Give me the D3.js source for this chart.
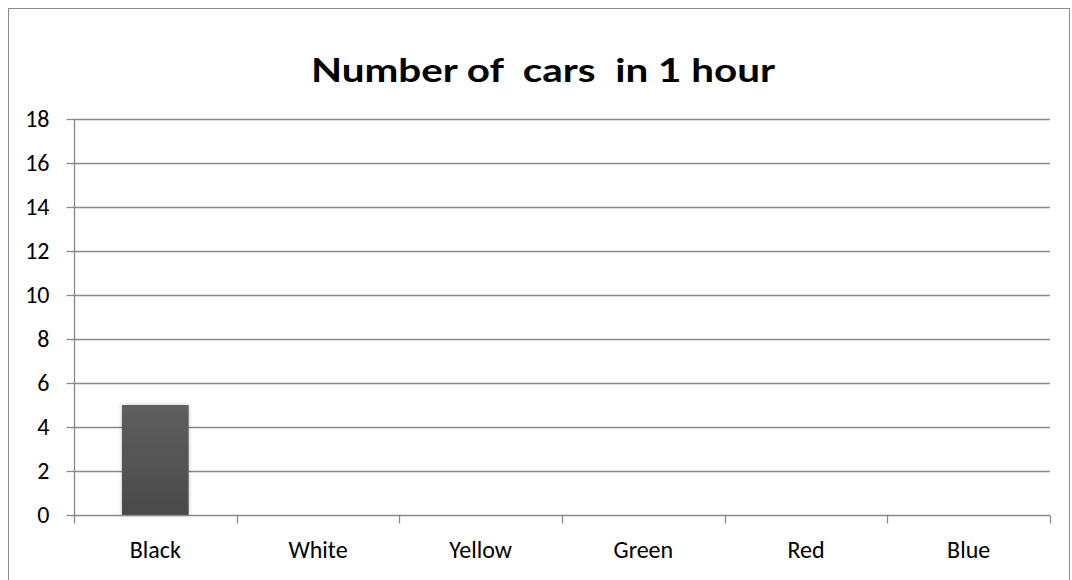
<!DOCTYPE html>
<html>
<head>
<meta charset="utf-8">
<script src="https://cdn.jsdelivr.net/npm/d3@7"></script>
<style>
  body { margin: 0; background: #fff; }
  svg { display: block; }
</style>
</head>
<body>
<script>
// chart values
var categories = ["Black", "White", "Yellow", "Green", "Red", "Blue"];
var counts = [5, 0, 0, 0, 0, 0];
var yTicks = [0, 2, 4, 6, 8, 10, 12, 14, 16, 18];
var title = "Number of  cars  in 1 hour";

var W = 1072, H = 580;
var margin = {left: 74, right: 22, top: 119, bottom: 65};

var svg = d3.select("body").append("svg")
    .attr("width", W)
    .attr("height", H);

// gradient for the bar
var defs = svg.append("defs");
var grad = defs.append("linearGradient")
    .attr("id", "barGrad")
    .attr("x1", 0).attr("y1", 0).attr("x2", 0).attr("y2", 1);
grad.append("stop").attr("offset", "0%").attr("stop-color", "#5f5f5f");
grad.append("stop").attr("offset", "100%").attr("stop-color", "#4a4a4a");

var shadow = defs.append("filter").attr("id", "shadow")
    .attr("x", "-20%").attr("y", "-20%").attr("width", "140%").attr("height", "140%");
shadow.append("feDropShadow")
    .attr("dx", 0).attr("dy", 0).attr("stdDeviation", 2)
    .attr("flood-color", "#000").attr("flood-opacity", 0.25);

// outer frame
svg.append("rect")
    .attr("x", 8.5).attr("y", 8.5)
    .attr("width", 1061).attr("height", 600)
    .attr("fill", "none")
    .attr("stroke", "#8c8c8c")
    .attr("stroke-width", 1);

svg.append("text")
    .attr("x", 543)
    .attr("y", 82)
    .attr("text-anchor", "middle")
    .attr("font-family", "Lato, sans-serif")
    .attr("font-size", 33)
    .attr("font-weight", "bold")
    .attr("fill", "#000")
    .attr("textLength", 464)
    .attr("lengthAdjust", "spacingAndGlyphs")
    .style("white-space", "pre")
    .text(title);

var x = d3.scaleBand()
    .domain(categories)
    .range([margin.left, W - margin.right])
    .paddingInner(0.59)
    .paddingOuter(0.295);

var xEdge = d3.scaleLinear()
    .domain([0, categories.length])
    .range([margin.left, W - margin.right]);

var y = d3.scaleLinear()
    .domain([0, 18])
    .range([H - margin.bottom, margin.top]);

var font = "Carlito, Calibri, Lato, sans-serif";

// gridlines
svg.append("g")
    .selectAll("line")
    .data(yTicks.filter(function(d) { return d > 0; }))
    .enter().append("line")
        .attr("x1", margin.left)
        .attr("x2", W - margin.right)
        .attr("y1", function(d) { return Math.round(y(d)) + 0.5; })
        .attr("y2", function(d) { return Math.round(y(d)) + 0.5; })
        .attr("stroke", "#888")
        .attr("stroke-width", 1.3);

// y axis
var yAxis = svg.append("g")
    .attr("transform", "translate(" + (margin.left + 0.5) + ",0)")
    .call(d3.axisLeft(y).tickValues(yTicks).tickSize(8).tickPadding(17));
yAxis.selectAll("path, line").attr("stroke", "#888").attr("stroke-width", 1.3);
yAxis.select(".domain").attr("d", "M0," + margin.top + "V" + (H - margin.bottom));
yAxis.selectAll("text")
    .attr("font-family", font)
    .attr("font-size", 24)
    .attr("fill", "#000");

// bars
svg.append("g")
    .selectAll("rect")
    .data(counts)
    .enter().append("rect")
        .attr("x", function(d, i) { return x(categories[i]); })
        .attr("y", function(d) { return y(d); })
        .attr("width", x.bandwidth())
        .attr("height", function(d) { return y(0) - y(d); })
        .attr("fill", "url(#barGrad)")
        .attr("filter", "url(#shadow)");

// x axis
var y0 = Math.round(y(0)) + 0.5;
var xg = svg.append("g");
xg.append("line")
    .attr("x1", margin.left).attr("x2", W - margin.right)
    .attr("y1", y0).attr("y2", y0)
    .attr("stroke", "#888").attr("stroke-width", 1.3);
xg.selectAll("line.tick")
    .data(d3.range(categories.length + 1))
    .enter().append("line")
        .attr("class", "tick")
        .attr("x1", function(d) { return Math.round(xEdge(d)) + 0.5; })
        .attr("x2", function(d) { return Math.round(xEdge(d)) + 0.5; })
        .attr("y1", y0).attr("y2", y0 + 8)
        .attr("stroke", "#888").attr("stroke-width", 1.3);
xg.selectAll("text")
    .data(categories)
    .enter().append("text")
        .attr("x", function(d) { return x(d) + x.bandwidth() / 2; })
        .attr("y", 558)
        .attr("text-anchor", "middle")
        .attr("font-family", font)
        .attr("font-size", 24)
        .attr("fill", "#000")
        .text(function(d) { return d; });
</script>
</body>
</html>
